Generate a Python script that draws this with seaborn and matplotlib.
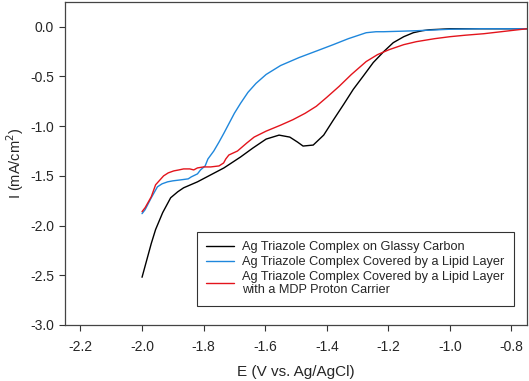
import pandas as pd
import seaborn as sns
import matplotlib.pyplot as plt

# Potential (V vs. Ag/AgCl) and current density (mA/cm^2)
glassy_e = [-2.0, -1.985, -1.97, -1.956, -1.933, -1.907, -1.884, -1.865, -1.82, -1.777,
            -1.734, -1.68, -1.64, -1.597, -1.555, -1.52, -1.495, -1.477, -1.444, -1.41,
            -1.379, -1.345, -1.314, -1.28, -1.249, -1.215, -1.184, -1.15, -1.119, -1.09,
            -1.066, -1.03, -1.0, -0.9, -0.8, -0.75]
glassy_i = [-2.52, -2.35, -2.18, -2.04, -1.87, -1.72, -1.66, -1.62, -1.56, -1.49,
            -1.42, -1.31, -1.22, -1.13, -1.09, -1.11, -1.16, -1.20, -1.19, -1.09,
            -0.94, -0.78, -0.63, -0.49, -0.36, -0.25, -0.16, -0.10, -0.06, -0.04,
            -0.03, -0.025, -0.02, -0.02, -0.02, -0.02]

lipid_e = [-2.0, -1.99, -1.97, -1.95, -1.935, -1.917, -1.9, -1.874, -1.85, -1.84,
           -1.82, -1.81, -1.795, -1.786, -1.767, -1.75, -1.734, -1.717, -1.70, -1.68,
           -1.656, -1.63, -1.597, -1.55, -1.49, -1.43, -1.379, -1.33, -1.272, -1.24,
           -1.216, -1.16, -1.109, -1.0, -0.9, -0.75]
lipid_i = [-1.88, -1.84, -1.72, -1.61, -1.58, -1.56, -1.55, -1.54, -1.53, -1.51,
           -1.48, -1.44, -1.40, -1.33, -1.25, -1.16, -1.07, -0.97, -0.87, -0.77,
           -0.66, -0.57, -0.48, -0.39, -0.31, -0.24, -0.18, -0.12, -0.06, -0.05,
           -0.05, -0.045, -0.04, -0.025, -0.02, -0.02]

mdp_e = [-2.0, -1.99, -1.97, -1.956, -1.93, -1.915, -1.897, -1.88, -1.865, -1.845,
         -1.832, -1.82, -1.80, -1.777, -1.75, -1.735, -1.728, -1.718, -1.69, -1.66,
         -1.636, -1.597, -1.55, -1.51, -1.47, -1.434, -1.40, -1.36, -1.32, -1.272,
         -1.235, -1.197, -1.15, -1.109, -1.05, -1.0, -0.95, -0.89, -0.82, -0.75]
mdp_i = [-1.86, -1.82, -1.71, -1.59, -1.50, -1.47, -1.45, -1.44, -1.43, -1.43,
         -1.44, -1.42, -1.41, -1.41, -1.40, -1.37, -1.33, -1.29, -1.25, -1.17,
         -1.11, -1.05, -0.99, -0.935, -0.87, -0.80, -0.71, -0.60, -0.48, -0.35,
         -0.28, -0.23, -0.18, -0.15, -0.12, -0.10, -0.085, -0.07, -0.045, -0.02]

labels = [
    'Ag Triazole Complex on Glassy Carbon',
    'Ag Triazole Complex Covered by a Lipid Layer',
    'Ag Triazole Complex Covered by a Lipid Layer\nwith a MDP Proton Carrier',
]
colors = ['#000000', '#1f87dc', '#e3141c']

sns.set_style('ticks')
plt.rcParams['font.family'] = ['Liberation Sans', 'DejaVu Sans']

fig = plt.figure(figsize=(5.29, 3.81), dpi=100)
ax = fig.add_axes([0.123, 0.147, 0.873, 0.848])

for xs, ys, lab, col in zip([glassy_e, lipid_e, mdp_e], [glassy_i, lipid_i, mdp_i], labels, colors):
    df = pd.DataFrame({'E': xs, 'I': ys})
    sns.lineplot(data=df, x='E', y='I', sort=False, color=col, lw=1.0, label=lab, ax=ax)

ax.set_xlim(-2.25, -0.75)
ax.set_ylim(-3.0, 0.25)
ax.set_xticks([-2.2, -2.0, -1.8, -1.6, -1.4, -1.2, -1.0, -0.8])
ax.set_yticks([0.0, -0.5, -1.0, -1.5, -2.0, -2.5, -3.0])
ax.xaxis.set_major_formatter(plt.FormatStrFormatter('%.1f'))
ax.yaxis.set_major_formatter(plt.FormatStrFormatter('%.1f'))
ax.tick_params(labelsize=10, length=4.5, width=0.8, color='#333333')
ax.tick_params(axis='x', pad=6)
for sp in ax.spines.values():
    sp.set_color('#444444')
    sp.set_linewidth(0.9)

ax.set_xlabel('E (V vs. Ag/AgCl)', fontsize=11, labelpad=8)
ax.set_ylabel('I (mA/cm$^2$)', fontsize=10.5, labelpad=3)

leg = ax.legend(loc='lower right', bbox_to_anchor=(0.972, 0.059), fontsize=9.2,
                frameon=True, fancybox=False, edgecolor='black', borderpad=0.75,
                handlelength=2.2, labelspacing=0.2, handletextpad=0.6,
                borderaxespad=0)
leg.get_frame().set_linewidth(0.8)

fig.savefig('out.png', dpi=100)
